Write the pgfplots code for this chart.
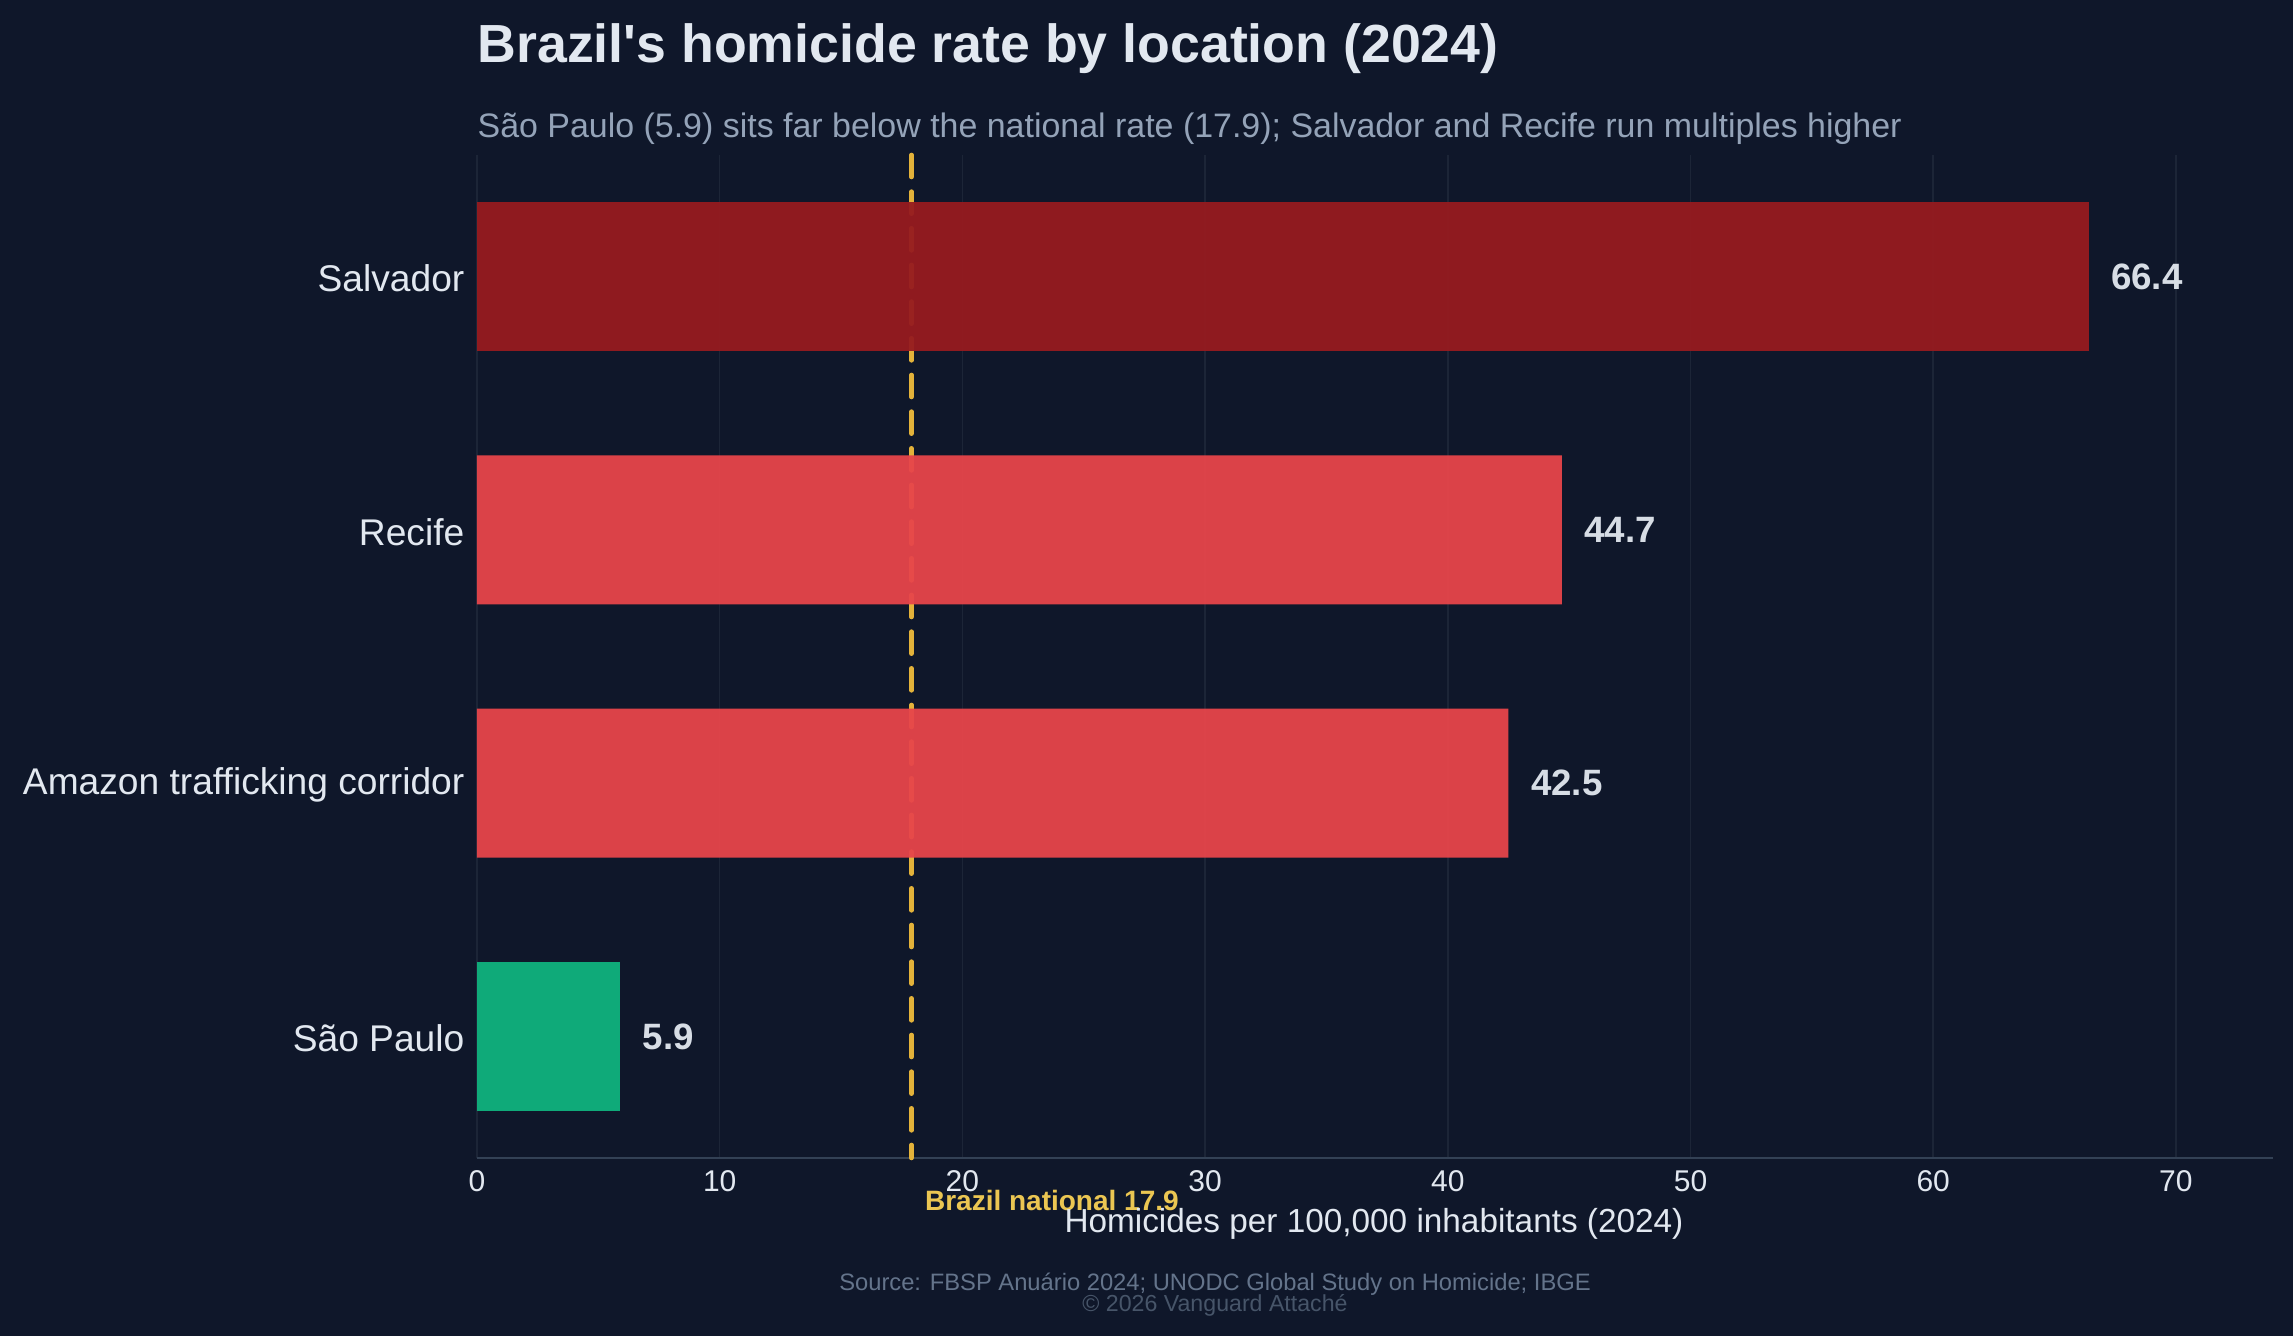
\documentclass[border=0pt]{standalone}
\usepackage{pgfplots}
\pgfplotsset{compat=1.18}
\usepackage{fontspec}
\setmainfont{Liberation Sans}[Ligatures=TeXOff]
\definecolor{bg}{HTML}{0F172A}
\definecolor{gridc}{HTML}{1C2537}
\definecolor{axisc}{HTML}{334155}
\definecolor{txt}{HTML}{E2E8F0}
\definecolor{subc}{HTML}{94A3B8}
\definecolor{srcc}{HTML}{64748B}
\definecolor{copyc}{HTML}{475569}
\definecolor{darkred}{HTML}{961B1F}
\definecolor{redc}{HTML}{E7454A}
\definecolor{greenc}{HTML}{10B27E}
\definecolor{gold}{HTML}{E3B23A}
\definecolor{goldtxt}{HTML}{EBC652}
\begin{document}
\begin{tikzpicture}
\path[use as bounding box, fill=bg] (0pt,0pt) rectangle (687.9pt,400.8pt);
\begin{axis}[
  at={(143.1pt,53.4pt)}, anchor=south west,
  scale only axis, width=538.8pt, height=300.9pt,
  xbar, bar shift=0pt, bar width=44.7pt,
  xmin=0, xmax=74, ymin=-0.48, ymax=3.48,
  xtick={0,10,20,30,40,50,60,70},
  ytick={0,1,2,3},
  yticklabels={São Paulo, Amazon trafficking corridor, Recife, Salvador},
  major tick length=0pt,
  xmajorgrids, major grid style={gridc, line width=0.45pt},
  axis x line*=bottom, axis y line*=left,
  x axis line style={-, axisc, line width=0.6pt},
  y axis line style={draw=none},
  /pgf/number format/assume math mode=true,
  xticklabel style={font=\fontsize{9}{10}\selectfont, text=txt, anchor=north, inner sep=0pt, yshift=-3.6pt},
  yticklabel style={font=\fontsize{11.15}{12}\selectfont, text=txt, anchor=east, inner sep=0pt, xshift=-3.6pt, yshift=-0.6pt},
  point meta=x,
  nodes near coords={\pgfmathprintnumber[fixed,fixed zerofill,precision=1]{\pgfplotspointmeta}},
  nodes near coords style={font=\bfseries\fontsize{11}{12}\selectfont, text=txt, anchor=west, inner sep=0pt, xshift=6.6pt},
  clip=false,
]
\draw[gold, line width=1.38pt, line cap=round, dash pattern=on 6.6pt off 4.4pt] (axis cs:17.9,3.48) -- (axis cs:17.9,-0.48);
\addplot[fill=darkred, draw=none, fill opacity=0.95] coordinates {(66.4,3)};
\addplot[fill=redc, draw=none, fill opacity=0.95] coordinates {(44.7,2) (42.5,1)};
\addplot[fill=greenc, draw=none, fill opacity=0.95] coordinates {(5.9,0)};
\node[anchor=base west, inner sep=0pt, text=goldtxt, font=\bfseries\fontsize{8.4}{10}\selectfont, xshift=3.9pt, yshift=-15.9pt] at (axis cs:17.9,-0.48) {Brazil national 17.9};
\end{axis}
\node[anchor=base west, inner sep=0pt, text=txt, font=\bfseries\fontsize{16.1}{19}\selectfont] at (143.1pt,381.9pt) {Brazil's homicide rate by location (2024)};
\node[anchor=base west, inner sep=0pt, text=subc, font=\fontsize{10.18}{12}\selectfont] at (143.1pt,359.4pt) {São Paulo (5.9) sits far below the national rate (17.9); Salvador and Recife run multiples higher};
\node[anchor=base, inner sep=0pt, text=txt, font=\fontsize{10}{12}\selectfont] at (412.2pt,30.9pt) {Homicides per 100,000 inhabitants (2024)};
\node[anchor=base, inner sep=0pt, text=srcc, font=\fontsize{7.12}{9}\selectfont] at (364.5pt,13.5pt) {Source: FBSP Anuário 2024; UNODC Global Study on Homicide; IBGE};
\node[anchor=base, inner sep=0pt, text=copyc, font=\fontsize{6.95}{9}\selectfont] at (364.5pt,7.2pt) {© 2026 Vanguard Attaché};
\end{tikzpicture}
\end{document}
